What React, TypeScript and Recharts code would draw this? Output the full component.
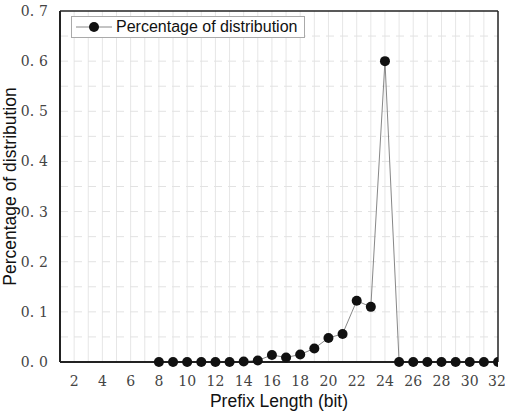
import React from 'react';
import { LineChart, Line, XAxis, YAxis, ReferenceLine } from 'recharts';

const prefixLengths = [8, 9, 10, 11, 12, 13, 14, 15, 16, 17, 18, 19, 20, 21, 22, 23, 24, 25, 26, 27, 28, 29, 30, 31, 32];
const percentages = [0, 0, 0, 0, 0, 0, 0.001, 0.003, 0.014, 0.009, 0.015, 0.027, 0.048, 0.056, 0.122, 0.11, 0.6, 0, 0, 0, 0, 0, 0, 0, 0];

const xTicks = [2, 4, 6, 8, 10, 12, 14, 16, 18, 20, 22, 24, 26, 28, 30, 32];
const yTicks = [0, 0.1, 0.2, 0.3, 0.4, 0.5, 0.6, 0.7];
const xGrid = [2, 3, 4, 5, 6, 7, 8, 9, 10, 11, 12, 13, 14, 15, 16, 17, 18, 19, 20, 21, 22, 23, 24, 25, 26, 27, 28, 29, 30, 31];
const yGrid = [0.05, 0.1, 0.15, 0.2, 0.25, 0.3, 0.35, 0.4, 0.45, 0.5, 0.55, 0.6, 0.65];

const data = prefixLengths.map((p, i) => ({ prefix: p, value: percentages[i] }));

const serif = 'DejaVu Serif';
const titleFont = "'Liberation Sans', Arial, sans-serif";

const renderXTick = (props: any) => {
  const { x, y, payload } = props;
  return (
    <text key={'xt' + payload.value} x={x} y={y + 14} textAnchor="middle" fontFamily={serif} fontSize={14} fill="#444">
      {payload.value}
    </text>
  );
};

const renderYTick = (props: any) => {
  const { x, y, payload } = props;
  const [a, b] = Number(payload.value).toFixed(1).split('.');
  return (
    <text key={'yt' + payload.value} x={x} y={y + 5} textAnchor="end" fontFamily={serif} fontSize={14} fill="#444">
      {a + '.'}
      <tspan dx={5}>{b}</tspan>
    </text>
  );
};

const LegendBox = () => (
  <div
    style={{
      position: 'absolute',
      left: 71,
      top: 16,
      display: 'flex',
      alignItems: 'center',
      border: '1px solid #aaa',
      background: '#fff',
      height: 22,
      width: 234,
      boxSizing: 'border-box',
      fontFamily: titleFont,
      fontSize: 16,
      color: '#111',
    }}
  >
    <svg width={44} height={20}>
      <line x1={4} y1={10} x2={40} y2={10} stroke="#888" strokeWidth={1} />
      <circle cx={22} cy={10} r={5} fill="#111" />
    </svg>
    <span>Percentage of distribution</span>
  </div>
);

const App: React.FC = () => {
  return (
    <div style={{ position: 'absolute', left: 0, top: 0, width: 505, height: 413, background: '#fff' }}>
      <LineChart width={505} height={413} data={data} margin={{ top: 11, right: 7, left: 0, bottom: 0 }}>
        {xGrid.map((x) => (
          <ReferenceLine key={'vx' + x} x={x} stroke="#e6e6e6" strokeWidth={1} />
        ))}
        {yGrid.map((y) => (
          <ReferenceLine key={'hy' + y} y={y} stroke="#e2e2e2" strokeWidth={1} strokeDasharray="8 6" />
        ))}
        <XAxis
          type="number"
          dataKey="prefix"
          domain={[1, 32]}
          ticks={xTicks}
          allowDataOverflow
          height={51}
          tickLine={false}
          axisLine={{ stroke: '#222', strokeWidth: 2 }}
          tick={renderXTick}
          tickMargin={4}
          label={{ value: 'Prefix Length (bit)', position: 'insideBottom', offset: 6, style: { fontFamily: titleFont, fontSize: 17.5, fill: '#111' } }}
        />
        <YAxis
          type="number"
          domain={[0, 0.7]}
          ticks={yTicks}
          width={60}
          tickLine={false}
          axisLine={{ stroke: '#222', strokeWidth: 2 }}
          tick={renderYTick}
          tickMargin={6}
          label={{ value: 'Percentage of distribution', angle: -90, position: 'insideLeft', offset: 10, style: { fontFamily: titleFont, fontSize: 17.5, fill: '#111', textAnchor: 'middle' } }}
        />
        <ReferenceLine y={0.7} stroke="#222" strokeWidth={1.5} />
        <ReferenceLine x={32} stroke="#222" strokeWidth={1.5} />
        <Line
          dataKey="value"
          name="Percentage of distribution"
          stroke="#888"
          strokeWidth={1}
          dot={{ r: 5, fill: '#111', stroke: '#111', strokeWidth: 0 }}
          isAnimationActive={false}
        />
      </LineChart>
      <LegendBox />
    </div>
  );
};

export default App;
